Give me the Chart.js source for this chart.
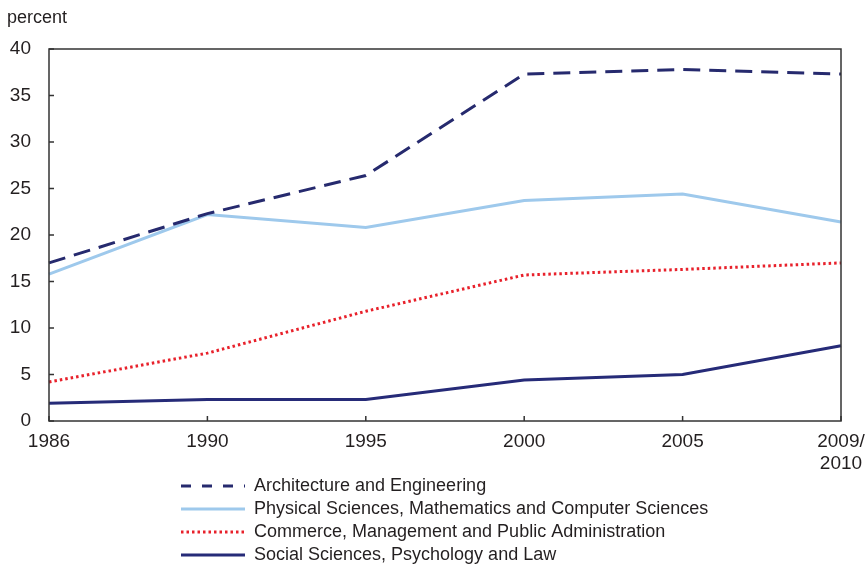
<!DOCTYPE html>
<html>
<head>
<meta charset="utf-8">
<script src="https://cdn.jsdelivr.net/npm/chart.js@4"></script>
<style>
  html, body { margin: 0; padding: 0; background: #fff; }
  #wrap { width: 868px; height: 566px; }
</style>
</head>
<body>
<div id="wrap"><canvas id="myChart1"></canvas></div>
<script>
const years = ["1986", "1990", "1995", "2000", "2005", ["2009/", "2010"]];
const yTicks = [0, 5, 10, 15, 20, 25, 30, 35, 40];

const archEng = [17.0, 22.3, 26.4, 37.3, 37.8, 37.3];
const physMath = [15.8, 22.2, 20.8, 23.7, 24.4, 21.4];
const commerce = [4.2, 7.3, 11.8, 15.7, 16.3, 17.0];
const socialSci = [1.9, 2.3, 2.3, 4.4, 5.0, 8.1];

const labels = [
    "Architecture and Engineering",
    "Physical Sciences, Mathematics and Computer Sciences",
    "Commerce, Management and Public Administration",
    "Social Sciences, Psychology and Law"
];

const FONT = "'Liberation Sans', Arial, sans-serif";
const AXIS = "#333333";
const TEXT = "#231f20";

// box frame, inward ticks, "percent" label and the legend under the chart
const framePlugin = {
    id: "frame",
    afterDraw(chart) {
        const ctx = chart.ctx;
        const a = chart.chartArea;
        const x = chart.scales.x, y = chart.scales.y;
        ctx.save();
        ctx.strokeStyle = AXIS;
        ctx.lineWidth = 1.5;
        ctx.strokeRect(a.left, a.top, a.right - a.left, a.bottom - a.top);
        ctx.beginPath();
        yTicks.forEach(v => {
            const py = y.getPixelForValue(v);
            ctx.moveTo(a.left, py);
            ctx.lineTo(a.left + 5, py);
        });
        years.forEach((lab, i) => {
            const px = x.getPixelForValue(i);
            ctx.moveTo(px, a.bottom);
            ctx.lineTo(px, a.bottom - 5);
        });
        ctx.stroke();

        ctx.fillStyle = TEXT;
        ctx.font = "18px " + FONT;
        ctx.textAlign = "left";
        ctx.textBaseline = "middle";
        ctx.fillText("percent", 7, 18);

        // legend
        const lx = 181, ly = 486, step = 23;
        ctx.font = "18px " + FONT;
        chart.data.datasets.forEach((ds, i) => {
            const yy = ly + i * step;
            ctx.beginPath();
            ctx.strokeStyle = ds.borderColor;
            ctx.lineWidth = ds.borderWidth;
            ctx.setLineDash(i === 0 ? [10, 11] : (ds.borderDash || []));
            ctx.moveTo(lx, yy);
            ctx.lineTo(lx + 64, yy);
            ctx.stroke();
            ctx.setLineDash([]);
            ctx.fillStyle = TEXT;
            ctx.fillText(ds.label, lx + 73, yy);
        });
        ctx.restore();
    }
};

const ctx = document.getElementById("myChart1").getContext("2d");
const myChart1 = new Chart(ctx, {
    type: "line",
    data: {
        labels: years,
        datasets: [
            {
                label: labels[0],
                data: archEng,
                borderColor: "#262a6e",
                borderWidth: 3,
                borderDash: [17, 9],
                pointRadius: 0,
                tension: 0,
                fill: false
            },
            {
                label: labels[1],
                data: physMath,
                borderColor: "#9ec9ec",
                borderWidth: 3,
                pointRadius: 0,
                tension: 0,
                fill: false
            },
            {
                label: labels[2],
                data: commerce,
                borderColor: "#e8212b",
                borderWidth: 3,
                borderDash: [2.5, 3],
                pointRadius: 0,
                tension: 0,
                fill: false
            },
            {
                label: labels[3],
                data: socialSci,
                borderColor: "#262b78",
                borderWidth: 3,
                pointRadius: 0,
                tension: 0,
                fill: false
            }
        ]
    },
    options: {
        responsive: true,
        maintainAspectRatio: false,
        animation: false,
        layout: { padding: { top: 49, right: 27, bottom: 75, left: 0 } },
        plugins: {
            legend: { display: false },
            tooltip: { enabled: false },
            title: { display: false }
        },
        scales: {
            x: {
                type: "category",
                offset: false,
                grid: { display: false },
                border: { display: false },
                afterFit: s => { s.height = 70; },
                ticks: {
                    color: TEXT,
                    font: { family: FONT, size: 19, lineHeight: 1.2 },
                    padding: 1,
                    maxRotation: 0,
                    autoSkip: false
                }
            },
            y: {
                min: 0,
                max: 40,
                grid: { display: false },
                border: { display: false },
                afterFit: s => { s.width = 49; },
                afterBuildTicks: s => { s.ticks = yTicks.map(v => ({ value: v })); },
                ticks: {
                    color: TEXT,
                    font: { family: FONT, size: 19 },
                    padding: 10
                }
            }
        }
    },
    plugins: [framePlugin]
});
</script>
</body>
</html>
